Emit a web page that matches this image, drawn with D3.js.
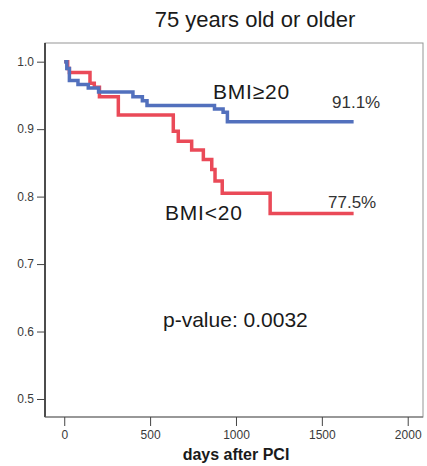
<!DOCTYPE html>
<html>
<head>
<meta charset="utf-8">
<script src="https://cdn.jsdelivr.net/npm/d3@7"></script>
<style>
  html, body { margin: 0; padding: 0; background: #fff; }
  svg { display: block; font-family: "Liberation Sans", Arial, sans-serif; }
</style>
</head>
<body>
<svg id="chart" width="427" height="466"></svg>
<script>
// Kaplan-Meier survival, patients aged 75 or older, split by BMI
const title = "75 years old or older";
const xTicks = [0, 500, 1000, 1500, 2000];
const yTicks = [0.5, 0.6, 0.7, 0.8, 0.9, 1.0];

// BMI >= 20 group: event days and survival after each step
const highDays = [0, 15, 30, 80, 140, 200, 400, 455, 482, 875, 925, 950, 1685];
const highSurv = [1.0, 0.99, 0.972, 0.966, 0.961, 0.955, 0.948, 0.942, 0.935, 0.930, 0.925, 0.911, 0.911];

// BMI < 20 group
const lowDays = [0, 20, 30, 150, 175, 205, 315, 635, 664, 742, 810, 859, 878, 920, 1199, 1685];
const lowSurv = [1.0, 0.99, 0.984, 0.968, 0.962, 0.948, 0.921, 0.897, 0.882, 0.869, 0.855, 0.840, 0.823, 0.805, 0.775, 0.775];

const highLabel = "BMI≥20";
const lowLabel = "BMI<20";
const highPct = "91.1%";
const lowPct = "77.5%";
const pText = "p-value: 0.0032";
const xTitle = "days after PCI";

const svg = d3.select("#chart");
const L = 45, R = 423, T = 43, B = 417;

const x = d3.scaleLinear().domain([-112, 2089]).range([L, R]);
const y = d3.scaleLinear().domain([0.4733, 1.0277]).range([B, T]);

// frame
svg.append("rect")
  .attr("x", L).attr("y", T).attr("width", R - L).attr("height", B - T)
  .attr("fill", "none").attr("stroke", "#959595").attr("stroke-width", 1);

// axes
const yAxis = svg.append("g")
  .attr("transform", `translate(${L},0)`)
  .call(d3.axisLeft(y).tickValues(yTicks).tickFormat(d3.format(".1f")).tickSize(8).tickPadding(3));
const xAxis = svg.append("g")
  .attr("transform", `translate(0,${B})`)
  .call(d3.axisBottom(x).tickValues(xTicks).tickFormat(d3.format("d")).tickSize(9).tickPadding(4));

yAxis.select(".domain").attr("stroke", "#222").attr("stroke-width", 1.5)
  .attr("d", `M0,${T}V${B}`);
xAxis.select(".domain").attr("stroke", "#666").attr("stroke-width", 1)
  .attr("d", `M${L},0H${R}`);
svg.selectAll(".tick line").attr("stroke", "#444");
svg.selectAll(".tick text")
  .attr("fill", "#3a3a3a")
  .style("font-size", "12px")
  .style("font-family", "'Liberation Sans', Arial, sans-serif");

// survival curves
const line = d3.line()
  .x(d => x(d[0]))
  .y(d => y(d[1]))
  .curve(d3.curveStepAfter);

const lowPts = lowDays.map((d, i) => [d, lowSurv[i]]);
const highPts = highDays.map((d, i) => [d, highSurv[i]]);

svg.append("path").datum(lowPts)
  .attr("d", line)
  .attr("fill", "none").attr("stroke", "#ea4a58").attr("stroke-width", 3.5);
svg.append("path").datum(highPts)
  .attr("d", line)
  .attr("fill", "none").attr("stroke", "#5270bd").attr("stroke-width", 3.5);

// texts
svg.append("text").text(title)
  .attr("x", 255).attr("y", 27).attr("text-anchor", "middle")
  .attr("fill", "#1a1a1a").style("font-size", "22px");

svg.append("text").text(highLabel)
  .attr("x", 213).attr("y", 99)
  .attr("fill", "#1a1a1a").style("font-size", "21px").style("letter-spacing", "0.8px");
svg.append("text").text(lowLabel)
  .attr("x", 165).attr("y", 220)
  .attr("fill", "#1a1a1a").style("font-size", "21px").style("letter-spacing", "0.8px");

svg.append("text").text(highPct)
  .attr("x", 332).attr("y", 108)
  .attr("fill", "#333").style("font-size", "17px");
svg.append("text").text(lowPct)
  .attr("x", 328).attr("y", 208)
  .attr("fill", "#333").style("font-size", "17px");

svg.append("text").text(pText)
  .attr("x", 163).attr("y", 327)
  .attr("fill", "#1a1a1a").style("font-size", "21px");

svg.append("text").text(xTitle)
  .attr("x", (L + R) / 2 + 2).attr("y", 460).attr("text-anchor", "middle")
  .attr("fill", "#1a1a1a").style("font-size", "16px").style("font-weight", "bold");
</script>
</body>
</html>
